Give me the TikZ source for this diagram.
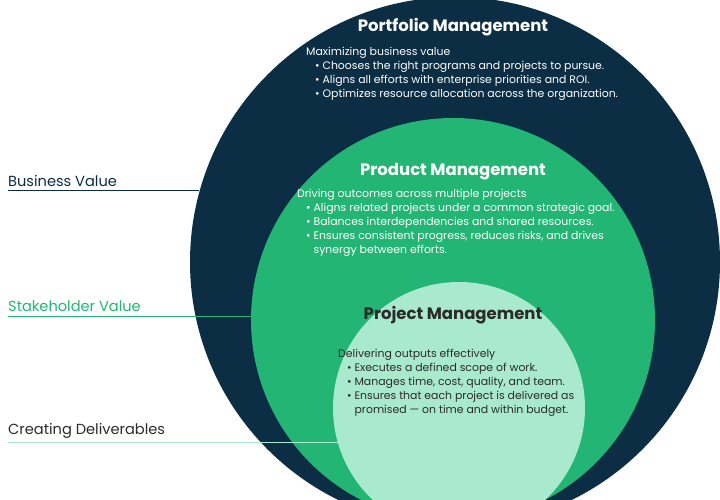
\documentclass[tikz,border=0pt]{standalone}
\usepackage{fontspec}
\setmainfont{Poppins}
\definecolor{navy}{HTML}{0B2E44}
\definecolor{grn}{HTML}{22B573}
\definecolor{lgrn}{HTML}{A9E9CD}
\definecolor{txtd}{HTML}{2B2B2B}
\begin{document}
\begin{tikzpicture}[x=1pt,y=-1pt,
  circ/.style={circle,inner sep=0pt,minimum size=#1},
  ttl/.style={font=\fontsize{16.5}{18}\selectfont\bfseries},
  body/.style={anchor=north west,align=left,inner sep=0pt,font=\fontsize{10.9}{14}\selectfont},
  lbl/.style={anchor=south west,inner sep=0pt,font=\fontsize{14.6}{16}\selectfont},
  lline/.style={line width=1pt}]
\useasboundingbox (0,0) rectangle (720,500);
\node[circ=530pt,fill=navy] (pf) at (455,262) {};
\node[circ=404pt,fill=grn] (pd) at (453,320) {};
\node[circ=252pt,fill=lgrn] (pj) at (459,408) {};
\node[ttl,white] (t1) at (453,27) {Portfolio Management};
\node[body,white] (b1) at (306,47) {Maximizing business value\\
\hspace{9pt}• Chooses the right programs and projects to pursue.\\
\hspace{9pt}• Aligns all efforts with enterprise priorities and ROI.\\
\hspace{9pt}• Optimizes resource allocation across the organization.};
\node[ttl,white] (t2) at (453,172) {Product Management};
\node[body,white] (b2) at (297,189) {Driving outcomes across multiple projects\\
\hspace{9pt}• Aligns related projects under a common strategic goal.\\
\hspace{9pt}• Balances interdependencies and shared resources.\\
\hspace{9pt}• Ensures consistent progress, reduces risks, and drives\\
\hspace{9pt}\phantom{• }synergy between efforts.};
\node[ttl,txtd] (t3) at (453,315) {Project Management};
\node[body,txtd] (b3) at (338,349) {Delivering outputs effectively\\
\hspace{9pt}• Executes a defined scope of work.\\
\hspace{9pt}• Manages time, cost, quality, and team.\\
\hspace{9pt}• Ensures that each project is delivered as\\
\hspace{9pt}\phantom{• }promised — on time and within budget.};
\node[lbl,navy] (l1) at (8,187) {Business Value};
\node[lbl,grn] (l2) at (8,312) {Stakeholder Value};
\node[lbl,txtd] (l3) at (8,439) {Creating Deliverables};
\coordinate (c1) at (8,190); \coordinate (e1) at (199,190);
\coordinate (c2) at (8,316); \coordinate (e2) at (252,316);
\coordinate (c3) at (8,442); \coordinate (e3) at (342,442);
\draw[lline,navy] (c1) -- (e1);
\draw[lline,grn] (c2) -- (e2);
\draw[lline,lgrn] (c3) -- (e3);
\end{tikzpicture}
\end{document}
